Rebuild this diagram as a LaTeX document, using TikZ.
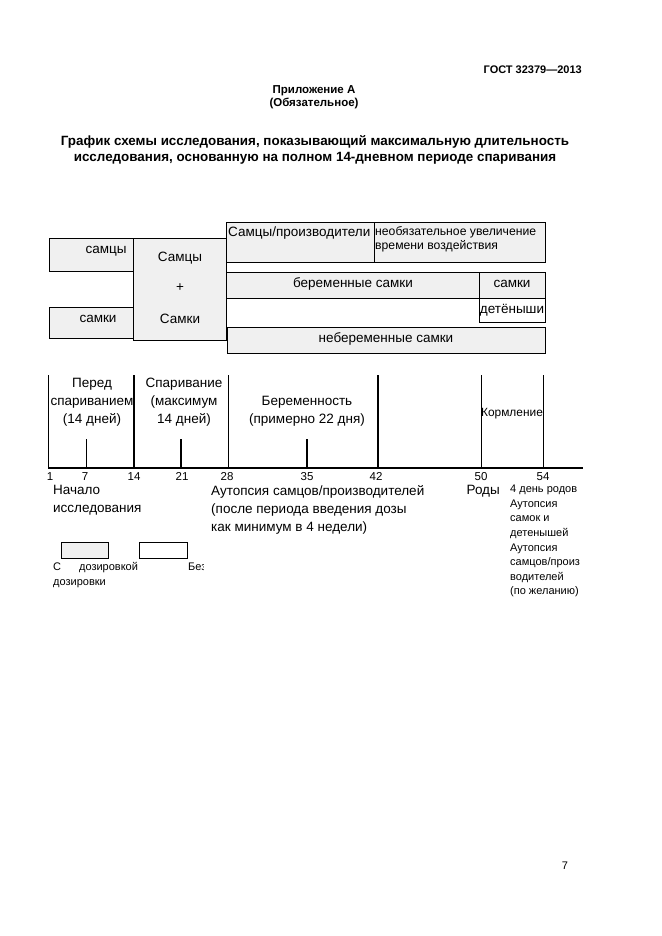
\documentclass[tikz,border=0pt]{standalone}
\usepackage{fontspec}
\setmainfont{Liberation Sans}
\begin{document}
\begin{tikzpicture}[x=1pt,y=-1pt,
  gbox/.style={draw, line width=0.8pt, fill=gray!12, inner sep=0pt, outer sep=0pt, anchor=north west},
  wbox/.style={draw, line width=0.8pt, fill=white, inner sep=0pt, outer sep=0pt, anchor=north west},
  txt/.style={inner sep=0pt, font=\fontsize{13.5}{18}\selectfont},
  tiny/.style={inner sep=0pt, font=\fontsize{11}{14.6}\selectfont, align=left, anchor=north west},
  num/.style={inner sep=0pt, anchor=base, font=\fontsize{11.5}{13}\selectfont},
  thickl/.style={line width=2.3pt},
  thinl/.style={line width=0.9pt}]
\useasboundingbox (0,0) rectangle (661,936);
\fill[white] (0,0) rectangle (661,936);
% header
\node[inner sep=0pt, anchor=east, font=\bfseries\fontsize{11}{13}\selectfont] (gost) at (582,70) {ГОСТ 32379—2013};
\node[inner sep=0pt, align=center, font=\bfseries\fontsize{11.5}{12.5}\selectfont] (app) at (314,97) {Приложение А\\(Обязательное)};
\node[inner sep=0pt, align=center, font=\bfseries\fontsize{13.4}{16}\selectfont] (title) at (315,150) {График схемы исследования, показывающий максимальную длительность\\исследования, основанную на полном 14-дневном периоде спаривания};
% boxes
\node[gbox, minimum width=84, minimum height=33] (bm) at (49,238) {};
\node[txt] (bmt) at (106,251) {самцы};
\node[gbox, minimum width=84, minimum height=31] (bf) at (49,307) {};
\node[txt] (bft) at (98,319) {самки};
\node[gbox, minimum width=93, minimum height=102] (bmf) at (133,238) {};
\node[txt] (bmf1) at (180,258) {Самцы};
\node[txt] (bmf2) at (180,288) {+};
\node[txt] (bmf3) at (180,319) {Самки};
\node[gbox, minimum width=148, minimum height=40] (bprod) at (226,222) {};
\node[txt, anchor=west] (bprodt) at (228,233) {Самцы/производители};
\node[gbox, minimum width=171, minimum height=40] (bopt) at (374,222) {};
\node[inner sep=0pt, anchor=north west, align=left, font=\fontsize{12.2}{14}\selectfont] (boptt) at (375,226) {необязательное увеличение\\времени воздействия};
\node[gbox, minimum width=253, minimum height=26] (bpreg) at (226,272) {};
\node[txt] (bpregt) at (353,284) {беременные самки};
\node[gbox, minimum width=66, minimum height=26] (bfem) at (479,272) {};
\node[txt] (bfemt) at (512,284) {самки};
\node[wbox, minimum width=66, minimum height=24] (bpups) at (479,298) {};
\node[txt] (bpupst) at (512,310) {детёныши};
\node[gbox, minimum width=318, minimum height=26] (bnon) at (227,327) {};
\node[txt] (bnont) at (386,339) {небеременные самки};
% timeline
\coordinate (a0) at (48,468);
\coordinate (a1) at (583,468);
\draw[line width=2pt] (a0) -- (a1);
\draw[thinl] (48,375) -- (48,469);
\draw[thickl] (134,375) -- (134,469);
\draw[thinl] (228,375) -- (228,469);
\draw[thickl] (378,375) -- (378,469);
\draw[thinl] (481,375) -- (481,469);
\draw[thinl] (543,375) -- (543,469);
\draw[thinl] (86,439) -- (86,469);
\draw[thickl] (181,439) -- (181,469);
\draw[thickl] (307,439) -- (307,469);
% numbers
\node[num] (n1) at (50,480.5) {1};
\node[num] (n7) at (85,480.5) {7};
\node[num] (n14) at (134,480.5) {14};
\node[num] (n21) at (182,480.5) {21};
\node[num] (n28) at (227,480.5) {28};
\node[num] (n35) at (307,480.5) {35};
\node[num] (n42) at (376,480.5) {42};
\node[num] (n50) at (481,480.5) {50};
\node[num] (n54) at (543,480.5) {54};
% period labels
\node[txt, align=center] (p1) at (92,402) {Перед\\спариванием\\(14 дней)};
\node[txt, align=center] (p2) at (184,402) {Спаривание\\(максимум\\14 дней)};
\node[txt, align=center] (p3) at (307,411) {Беременность\\(примерно 22 дня)};
\node[inner sep=0pt, font=\fontsize{11.9}{13}\selectfont] (p4) at (512,414) {Кормление};
% below axis
\node[txt, anchor=north west, align=left] (l1) at (53,485) {Начало\\исследования};
\node[txt, anchor=north west, align=left] (l2) at (211,485) {Аутопсия самцов/производителей\\(после периода введения дозы\\как минимум в 4 недели)};
\node[txt, anchor=north east] (l3) at (500,485) {Роды};
\node[tiny] (l4) at (510,485) {4 день родов\\Аутопсия\\самок и\\детенышей\\Аутопсия\\самцов/произ\\водителей\\(по желанию)};
% legend
\node[gbox, minimum width=47, minimum height=16] (lg1) at (61,542) {};
\node[wbox, minimum width=48, minimum height=16] (lg2) at (139,542) {};
\node[tiny, anchor=base west] (lg1t) at (53,570) {С\hspace{18pt}дозировкой};
\node[tiny, anchor=base west] (lg1u) at (53,585) {дозировки};
\begin{scope}
\clip (185,555) rectangle (203,575);
\node[tiny, anchor=base west] (lg2t) at (188,570) {Без};
\end{scope}
% page number
\node[inner sep=0pt, font=\fontsize{11}{13}\selectfont] (pg) at (565,866) {7};
\end{tikzpicture}
\end{document}
